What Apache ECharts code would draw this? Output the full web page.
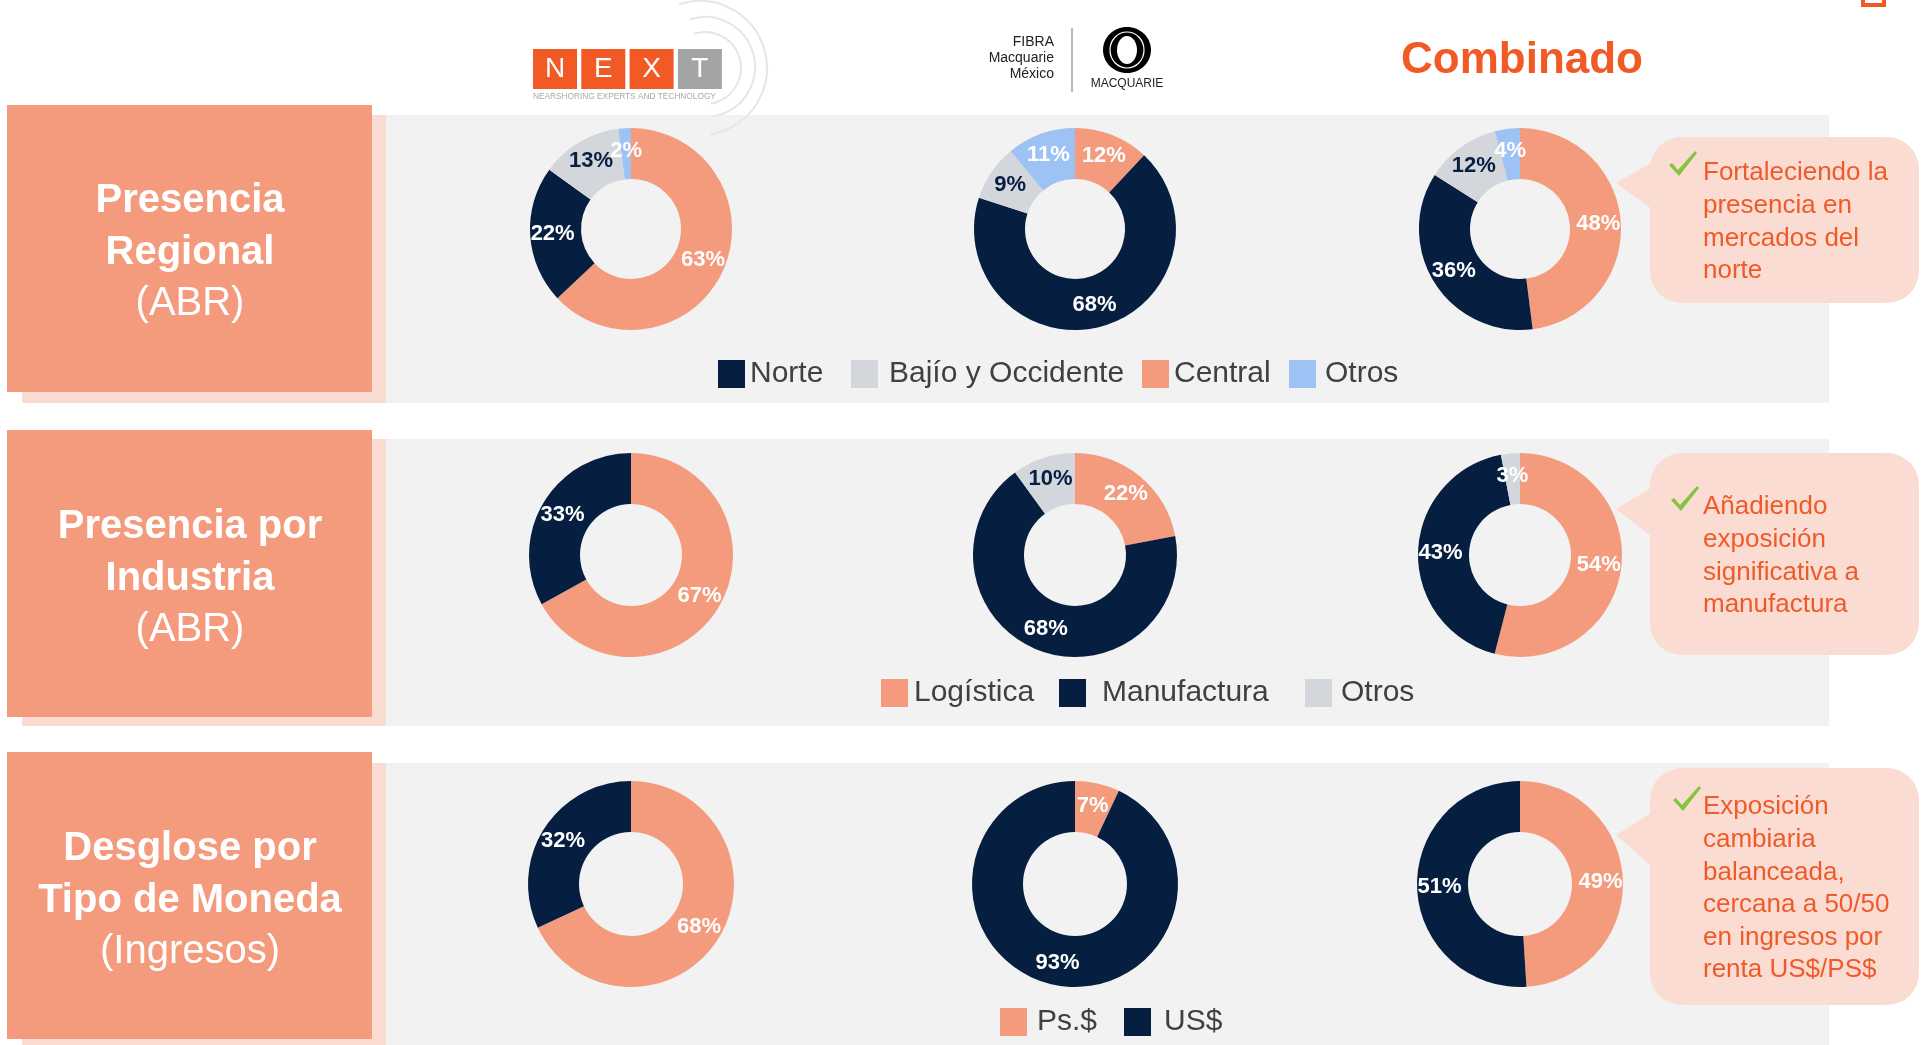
<!DOCTYPE html>
<html>
<head>
<meta charset="utf-8">
<title>Combinado</title>
<script src="https://cdn.jsdelivr.net/npm/echarts@6/dist/echarts.min.js"></script>
<style>
    html, body { margin: 0; padding: 0; background: #fff; }
    #main { width: 1921px; height: 1045px; }
</style>
</head>
<body>
<div id="main"></div>
<script>
// porcentajes por donut, en orden desde las 12 en sentido horario
var regionNames = ['Central', 'Norte', 'Bajío y Occidente', 'Otros'];
var regionNext = [63, 22, 13, 2];
var regionFibra = [12, 68, 9, 11];
var regionComb = [48, 36, 12, 4];
var regionLegend = ['Norte', 'Bajío y Occidente', 'Central', 'Otros'];

var industryNames = ['Logística', 'Manufactura', 'Otros'];
var industryNext = [67, 33];
var industryFibra = [22, 68, 10];
var industryComb = [54, 43, 3];
var industryLegend = ['Logística', 'Manufactura', 'Otros'];

var currencyNames = ['Ps.$', 'US$'];
var currencyNext = [68, 32];
var currencyFibra = [7, 93];
var currencyComb = [49, 51];
var currencyLegend = ['Ps.$', 'US$'];

var rowTitles = [
    ['Presencia', 'Regional', '(ABR)'],
    ['Presencia por', 'Industria', '(ABR)'],
    ['Desglose por', 'Tipo de Moneda', '(Ingresos)']
];
var notes = [
    ['Fortaleciendo la', 'presencia en', 'mercados del', 'norte'],
    ['Añadiendo', 'exposición', 'significativa a', 'manufactura'],
    ['Exposición', 'cambiaria', 'balanceada,', 'cercana a 50/50', 'en ingresos por', 'renta US$/PS$']
];

// estilos
var FONT = '"Liberation Sans", Arial, sans-serif';
var NAVY = '#061F41';
var SALMON = '#F39B7C';
var GRAY = '#D3D6DB';
var BLUE = '#9DC3F5';
var ORANGE = '#F05A28';
var PANEL = '#F2F2F2';
var PINK = '#FADCD2';
var GREEN = '#86C440';

var colX = [631, 1075, 1520];
var rows = [
    {names: regionNames, values: [regionNext, regionFibra, regionComb], legend: regionLegend,
     colors: {'Central': SALMON, 'Norte': NAVY, 'Bajío y Occidente': GRAY, 'Otros': BLUE},
     dark: [[2], [2], [2]], cy: 229, radius: [50, 101],
     box: [105, 392], band: [115, 403], titleY: [201, 253, 304],
     legendTop: 359, legendX: [718, 851, 1142, 1289], legendPad: [0, 6, 0, 4],
     bubble: [137, 303], tip: [[1616, 183], [1656, 160], [1656, 212]], check: [1669, 152], textTop: 157},
    {names: industryNames, values: [industryNext, industryFibra, industryComb], legend: industryLegend,
     colors: {'Logística': SALMON, 'Manufactura': NAVY, 'Otros': GRAY},
     dark: [[], [2], []], cy: 555, radius: [51, 102],
     box: [430, 717], band: [439, 726], titleY: [527, 579, 630],
     legendTop: 678, legendX: [881, 1059, 1305], legendPad: [1, 11, 4],
     bubble: [453, 655], tip: [[1616, 509], [1656, 485], [1656, 540]], check: [1671, 487], textTop: 491},
    {names: currencyNames, values: [currencyNext, currencyFibra, currencyComb], legend: currencyLegend,
     colors: {'Ps.$': SALMON, 'US$': NAVY},
     dark: [[], [], []], cy: 884, radius: [52, 103],
     box: [752, 1039], band: [763, 1046], titleY: [849, 901, 952],
     legendTop: 1007, legendX: [1000, 1124], legendPad: [5, 8],
     bubble: [768, 1005], tip: [[1616, 835], [1656, 810], [1656, 870]], check: [1673, 787], textTop: 791}
];

// forma de la palomita, relativa a su esquina superior izquierda
var checkShape = [[0, 13], [3, 11], [9, 18], [26, -1], [28, 1], [10, 24]];

var series = [];
var legends = [];
var graphics = [];

rows.forEach(function (row) {
    // fondos de la fila
    graphics.push({type: 'rect', shape: {x: 386, y: row.band[0], width: 1443, height: row.band[1] - row.band[0]}, style: {fill: PANEL}});
    graphics.push({type: 'rect', shape: {x: 22, y: row.band[0], width: 364, height: row.band[1] - row.band[0]}, style: {fill: PINK}});
    graphics.push({type: 'rect', shape: {x: 7, y: row.box[0], width: 365, height: row.box[1] - row.box[0]}, style: {fill: SALMON}});
});

rows.forEach(function (row, ri) {
    // titulo de la fila
    rowTitles[ri].forEach(function (line, li) {
        graphics.push({type: 'text', style: {
            text: line, x: 190, y: row.titleY[li], align: 'center', verticalAlign: 'middle',
            fill: '#fff', fontSize: 40, fontWeight: li < 2 ? 'bold' : 'normal', fontFamily: FONT
        }});
    });

    // donuts
    row.values.forEach(function (vals, ci) {
        series.push({
            type: 'pie',
            center: [colX[ci], row.cy],
            radius: row.radius,
            startAngle: 90,
            clockwise: true,
            silent: true,
            avoidLabelOverlap: false,
            labelLayout: {hideOverlap: false},
            label: {show: true, position: 'inside', formatter: '{c}%', color: '#fff',
                    fontSize: 22, fontWeight: 'bold', fontFamily: FONT},
            labelLine: {show: false},
            itemStyle: {borderWidth: 0},
            data: vals.map(function (v, i) {
                var name = row.names[i];
                var d = {name: name, value: v, itemStyle: {color: row.colors[name]}};
                if (row.dark[ci].indexOf(i) >= 0) d.label = {color: NAVY};
                return d;
            })
        });
    });

    // leyenda, un componente por elemento para fijar su posicion
    row.legend.forEach(function (name, li) {
        legends.push({
            left: row.legendX[li], top: row.legendTop, padding: 0,
            icon: 'rect', itemWidth: 27, itemHeight: 28, selectedMode: false,
            textStyle: {fontSize: 30, color: '#404040', fontFamily: FONT, padding: [0, 0, 0, row.legendPad[li]]},
            data: [{name: name, itemStyle: {color: row.colors[name]}}]
        });
    });

    // globo de comentario
    graphics.push({type: 'polygon', shape: {points: row.tip}, style: {fill: PINK}});
    graphics.push({type: 'rect', shape: {x: 1650, y: row.bubble[0], width: 269, height: row.bubble[1] - row.bubble[0], r: 32}, style: {fill: PINK}});
    graphics.push({type: 'polygon', shape: {points: checkShape.map(function (p) {
        return [row.check[0] + p[0], row.check[1] + p[1]];
    })}, style: {fill: GREEN}});
    graphics.push({type: 'text', style: {text: notes[ri].join('\n'), x: 1703, y: row.textTop, verticalAlign: 'top',
        lineHeight: 32.6, fill: ORANGE, fontSize: 26, fontFamily: FONT}});
});

// logo NEXT
var nextLetters = ['N', 'E', 'X', 'T'];
[[700, 68, 67], [705, 67, 50], [705, 68, 36]].forEach(function (a) {
    graphics.push({type: 'arc', shape: {cx: a[0], cy: a[1], r: a[2], startAngle: -Math.PI * 0.6, endAngle: Math.PI * 0.45},
        style: {stroke: '#E6E6E6', lineWidth: 2, fill: null}});
});
nextLetters.forEach(function (ch, i) {
    var x = 533 + i * 48.3;
    graphics.push({type: 'rect', shape: {x: x, y: 49, width: 44, height: 40}, style: {fill: i < 3 ? '#F15A24' : '#A2A4A5'}});
    graphics.push({type: 'text', style: {text: ch, x: x + 22, y: 69, align: 'center', verticalAlign: 'middle',
        fill: '#fff', fontSize: 28, fontFamily: FONT}});
});
graphics.push({type: 'text', style: {text: 'NEARSHORING EXPERTS AND TECHNOLOGY', x: 533, y: 97, verticalAlign: 'middle',
    fill: '#A8A8A8', fontSize: 8.3, fontFamily: FONT}});

// logo Macquarie
['FIBRA', 'Macquarie', 'México'].forEach(function (t, i) {
    graphics.push({type: 'text', style: {text: t, x: 1054, y: 42 + i * 16, align: 'right', verticalAlign: 'middle',
        fill: '#222', fontSize: 14, fontFamily: FONT}});
});
graphics.push({type: 'line', shape: {x1: 1072, y1: 28, x2: 1072, y2: 92}, style: {stroke: '#777', lineWidth: 1}});
graphics.push({type: 'ellipse', shape: {cx: 1127, cy: 50, rx: 24, ry: 23}, style: {fill: '#000'}});
graphics.push({type: 'ellipse', shape: {cx: 1127, cy: 50, rx: 17, ry: 18}, style: {fill: null, stroke: '#fff', lineWidth: 1.2}});
graphics.push({type: 'ellipse', shape: {cx: 1127, cy: 50, rx: 10, ry: 14}, style: {fill: '#fff'}});
graphics.push({type: 'text', style: {text: 'MACQUARIE', x: 1127, y: 84, align: 'center', verticalAlign: 'middle',
    fill: '#222', fontSize: 12, fontFamily: FONT}});

// titulo de la columna combinada
graphics.push({type: 'text', style: {text: 'Combinado', x: 1522, y: 61, align: 'center', verticalAlign: 'middle',
    fill: '#F15A24', fontSize: 44, fontWeight: 'bold', fontFamily: FONT}});

// marca en la esquina superior
graphics.push({type: 'rect', shape: {x: 1861, y: 0, width: 25, height: 7}, style: {fill: '#F15A24'}});
graphics.push({type: 'rect', shape: {x: 1865, y: 0, width: 17, height: 3}, style: {fill: '#fff'}});

var myChart = echarts.init(document.getElementById('main'));
myChart.setOption({
    animation: false,
    backgroundColor: '#fff',
    graphic: {elements: graphics},
    legend: legends,
    series: series
});
</script>
</body>
</html>
